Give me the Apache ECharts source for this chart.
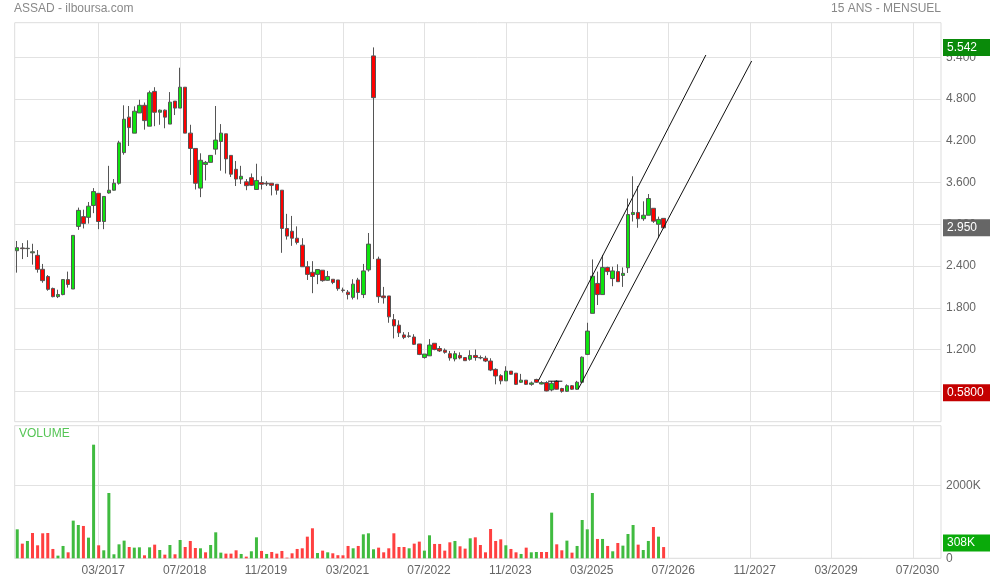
<!DOCTYPE html>
<html><head><meta charset="utf-8">
<script src="https://cdn.jsdelivr.net/npm/echarts@6/dist/echarts.min.js"></script>
<style>html,body{margin:0;padding:0;background:#fff}#c{width:990px;height:580px}</style>
</head><body><div id="c"></div>
<script>
// Month categories from 11/2015 to 12/2030 (axis categories)
const months = (function () {
  const a = []; let m = 11, y = 2015;
  for (let i = 0; i < 182; i++) { a.push(String(m).padStart(2, '0') + '/' + y); m++; if (m > 12) { m = 1; y++; } }
  return a;
})();
const tickLabels = ['03/2017','07/2018','11/2019','03/2021','07/2022','11/2023','03/2025','07/2026','11/2027','03/2029','07/2030'];
const priceTicks = [0.6, 1.2, 1.8, 2.4, 3.0, 3.6, 4.2, 4.8, 5.4];

const open = [2.62,2.66,2.65,2.59,2.554,2.353,2.25,2.078,1.96,1.99,
2.205,2.07,2.97,3.11,3.10,3.27,3.445,3.04,3.45,3.49,
3.59,4.03,4.54,4.31,4.60,4.71,4.41,4.91,4.61,4.64,
4.44,4.77,4.67,4.97,4.31,4.09,3.52,3.86,3.89,4.08,
4.19,4.30,3.99,3.79,3.65,3.61,3.67,3.50,3.60,3.59,
3.59,3.575,3.49,2.94,2.90,2.80,2.70,2.39,2.31,2.28,
2.34,2.195,2.21,2.20,2.055,2.025,1.95,2.20,1.99,2.345,
5.42,2.50,1.97,1.97,1.63,1.55,1.41,1.395,1.38,1.28,
1.085,1.11,1.29,1.215,1.19,1.14,1.065,1.115,1.085,1.06,
1.115,1.085,1.075,1.035,0.915,0.825,0.75,0.89,0.86,0.73,
0.76,0.70,0.77,0.705,0.725,0.62,0.745,0.64,0.60,0.68,
0.63,0.73,1.13,1.72,2.15,1.99,2.38,2.22,2.32,2.265,
2.375,3.14,3.17,3.08,3.13,3.23,3.00,3.085];

const close = [2.664,2.65,2.655,2.605,2.353,2.19,2.065,1.96,1.99,2.205,
2.135,2.84,3.20,3.01,3.26,3.47,3.04,3.40,3.49,3.59,
4.17,4.51,4.39,4.625,4.71,4.49,4.89,4.61,4.64,4.54,
4.755,4.67,4.97,4.31,4.09,3.59,3.92,3.89,3.99,4.21,
4.31,3.94,3.72,3.65,3.69,3.555,3.56,3.63,3.575,3.58,
3.56,3.49,2.94,2.83,2.80,2.74,2.39,2.28,2.25,2.35,
2.19,2.25,2.165,2.075,2.05,1.99,2.14,2.02,2.33,2.715,
4.82,1.96,1.945,1.67,1.54,1.44,1.375,1.39,1.275,1.13,
1.135,1.265,1.20,1.18,1.16,1.08,1.14,1.08,1.04,1.115,
1.085,1.08,1.035,0.905,0.82,0.75,0.89,0.845,0.70,0.76,
0.70,0.72,0.73,0.725,0.605,0.715,0.63,0.60,0.68,0.63,
0.73,1.09,1.465,2.255,1.99,2.38,2.32,2.33,2.175,2.295,
3.14,3.17,3.08,3.13,3.37,3.045,3.07,2.95];

const low = [2.305,2.50,2.53,2.42,2.305,2.16,2.045,1.95,1.94,1.98,
2.09,2.07,2.92,2.94,3.01,3.16,2.93,2.93,3.44,3.485,
3.57,4.00,4.125,4.31,4.60,4.36,4.41,4.41,4.43,4.38,
4.44,4.57,4.67,4.31,3.71,3.50,3.39,3.63,3.89,4.00,
3.77,3.73,3.68,3.55,3.58,3.49,3.55,3.50,3.50,3.55,
3.415,3.425,2.59,2.78,2.69,2.71,2.39,2.20,2.01,2.14,
2.175,2.19,2.14,2.045,2.02,1.92,1.92,1.92,1.94,2.32,
2.50,1.87,1.86,1.585,1.36,1.38,1.35,1.37,1.265,1.12,
1.07,1.11,1.19,1.165,1.14,1.04,1.03,1.06,1.04,1.04,
1.04,1.06,1.02,0.89,0.70,0.70,0.75,0.84,0.69,0.72,
0.69,0.68,0.72,0.70,0.60,0.60,0.625,0.58,0.59,0.62,
0.62,0.72,1.12,1.72,1.84,1.99,2.27,2.11,2.175,2.10,
2.30,3.04,2.95,3.05,3.13,3.02,2.80,2.94];

const high = [2.76,2.73,2.77,2.72,2.63,2.43,2.27,2.09,2.06,2.21,
2.32,2.84,3.24,3.21,3.32,3.52,3.445,3.40,3.84,3.65,
4.20,4.71,4.70,4.695,4.79,4.75,4.92,4.97,4.65,4.65,
4.90,4.77,5.25,4.97,4.43,4.09,4.02,3.91,3.99,4.70,
4.44,4.30,3.99,3.91,3.84,3.65,3.73,3.87,3.69,3.62,
3.59,3.575,3.49,3.15,3.12,2.97,2.80,2.47,2.47,2.35,
2.34,2.33,2.21,2.20,2.09,2.055,2.21,2.23,2.43,2.875,
5.542,2.535,2.10,1.97,1.71,1.62,1.45,1.45,1.42,1.28,
1.135,1.35,1.29,1.25,1.215,1.18,1.18,1.16,1.085,1.19,
1.20,1.115,1.11,1.075,0.93,0.845,0.96,0.89,0.86,0.85,
0.76,0.74,0.78,0.745,0.745,0.745,0.76,0.65,0.70,0.69,
0.75,1.10,1.585,2.495,2.32,2.56,2.39,2.39,2.425,2.38,
3.37,3.69,3.55,3.33,3.435,3.23,3.11,3.085];

// volume in thousands (K)
const volumeK = [794,402,475,694,356,685,694,256,73,338,
164,1032,913,886,566,3113,356,219,1789,110,
383,484,310,292,301,82,301,374,228,100,
365,110,502,310,475,283,274,164,365,712,
155,128,128,219,119,46,192,575,201,119,
173,128,201,18,137,256,274,593,822,146,
210,164,137,85,82,338,274,338,657,685,
247,292,164,274,685,310,310,274,402,457,
210,630,393,393,210,438,475,329,265,548,
575,365,164,803,475,520,356,256,164,119,
292,164,173,173,173,1251,383,219,484,155,
338,1050,794,1789,530,530,338,192,420,347,
666,913,374,228,475,858,593,308];

// drawn trend channel: [month index, price] endpoints
const channelUpper = [[102.4, 0.752], [135.3, 5.433]];
const channelLower = [[110.2, 0.629], [144.3, 5.347]];
const flatSegment = [[104.3, 0.745], [107.1, 0.745]];

const FONT = 'Arial, "Liberation Sans", sans-serif';
const GRID_C = '#e2e2e2';
const isTick = function (idx, val) { return tickLabels.indexOf(val === undefined ? months[idx] : val) >= 0; };

const candles = open.map((o, i) => [o, close[i], low[i], high[i]]);
const volBars = volumeK.map((v, i) => {
  const up = i === 0 ? close[i] >= open[i] : close[i] >= close[i - 1];
  return { value: v, itemStyle: { color: up ? '#40bb40' : '#ff4040' } };
});
const maxHigh = Math.max.apply(null, high);
const minLow = Math.min.apply(null, low);
const lastClose = close[close.length - 1];
const lastVol = volumeK[volumeK.length - 1];

const boxLabel = { position: 'end', distance: 2, color: '#fff', fontSize: 12, fontFamily: FONT,
  padding: [2, 4, 2, 4], lineHeight: 13, width: 39, align: 'left' };

const chart = echarts.init(document.getElementById('c'), null, { renderer: 'canvas' });
chart.setOption({
  animation: false,
  backgroundColor: '#fff',
  textStyle: { fontFamily: FONT },
  title: [
    { text: 'ASSAD - ilboursa.com', left: 14, top: 3, padding: 0, textStyle: { fontSize: 12, fontWeight: 'normal', color: '#888', fontFamily: FONT } },
    { text: '15 ANS - MENSUEL', right: 49, top: 3, padding: 0, textStyle: { fontSize: 12, fontWeight: 'normal', color: '#888', fontFamily: FONT } },
    { text: 'VOLUME', left: 19, top: 428, padding: 0, textStyle: { fontSize: 12, fontWeight: 'normal', color: '#55c555', fontFamily: FONT } }
  ],
  grid: [
    { left: 14.7, right: 49, top: 22.7, height: 399, show: true, borderColor: '#ddd', borderWidth: 1 },
    { left: 14.7, right: 49, top: 425.7, height: 132.6, show: true, borderColor: '#ddd', borderWidth: 1 }
  ],
  xAxis: [
    { type: 'category', gridIndex: 0, data: months, boundaryGap: true,
      axisLine: { show: false }, axisTick: { show: false }, axisLabel: { show: false },
      splitLine: { show: true, interval: isTick, alignWithLabel: true, lineStyle: { color: GRID_C } } },
    { type: 'category', gridIndex: 1, data: months, boundaryGap: true,
      axisLine: { show: false }, axisTick: { show: false },
      axisLabel: { show: true, interval: isTick, color: '#666', fontSize: 12, fontFamily: FONT, margin: 6, padding: [0, 0, 0, 9] },
      splitLine: { show: true, interval: isTick, alignWithLabel: true, lineStyle: { color: GRID_C } } },
    { type: 'value', gridIndex: 0, min: -0.5, max: 181.5, show: false }
  ],
  yAxis: [
    { type: 'value', gridIndex: 0, position: 'right', min: 0.163, max: 5.897,
      axisLine: { show: false }, axisTick: { show: false, customValues: priceTicks },
      axisLabel: { customValues: priceTicks, formatter: v => v.toFixed(3), color: '#666', fontSize: 12, fontFamily: FONT, margin: 5 },
      splitLine: { show: true, lineStyle: { color: GRID_C } } },
    { type: 'value', gridIndex: 1, position: 'right', min: 0, max: 3633, interval: 2000,
      axisLine: { show: false }, axisTick: { show: false },
      axisLabel: { showMaxLabel: false, formatter: v => v === 0 ? '0' : v + 'K', color: '#666', fontSize: 12, fontFamily: FONT, margin: 5 },
      splitLine: { show: true, lineStyle: { color: GRID_C } } }
  ],
  series: [
    { type: 'candlestick', xAxisIndex: 0, yAxisIndex: 0, data: candles, barWidth: 4, z: 3,
      itemStyle: { color: '#0ee40e', color0: '#ff0000', borderColor: '#555', borderColor0: '#555', borderWidth: 1 },
      markLine: { silent: true, symbol: 'none', animation: false, lineStyle: { color: 'transparent' }, label: boxLabel,
        data: [
          { yAxis: maxHigh, label: { formatter: maxHigh.toFixed(3), backgroundColor: '#0a8a0a' } },
          { yAxis: lastClose, label: { formatter: lastClose.toFixed(3), backgroundColor: '#666' } },
          { yAxis: minLow, label: { formatter: minLow.toFixed(4), backgroundColor: '#c40000' } }
        ] } },
    { type: 'bar', xAxisIndex: 1, yAxisIndex: 1, data: volBars, barWidth: 3,
      markLine: { silent: true, symbol: 'none', animation: false, lineStyle: { color: 'transparent' }, label: Object.assign({}, boxLabel, { offset: [0, -4] }),
        data: [ { yAxis: lastVol, label: { formatter: lastVol + 'K', backgroundColor: '#0aaa0a' } } ] } },
    { type: 'line', xAxisIndex: 2, yAxisIndex: 0, data: channelUpper, symbol: 'none', z: 4, silent: true,
      lineStyle: { color: '#111', width: 1 } },
    { type: 'line', xAxisIndex: 2, yAxisIndex: 0, data: channelLower, symbol: 'none', z: 4, silent: true,
      lineStyle: { color: '#111', width: 1 } },
    { type: 'line', xAxisIndex: 2, yAxisIndex: 0, data: flatSegment, symbol: 'none', z: 4, silent: true,
      lineStyle: { color: '#111', width: 1 } }
  ]
});
</script></body></html>
